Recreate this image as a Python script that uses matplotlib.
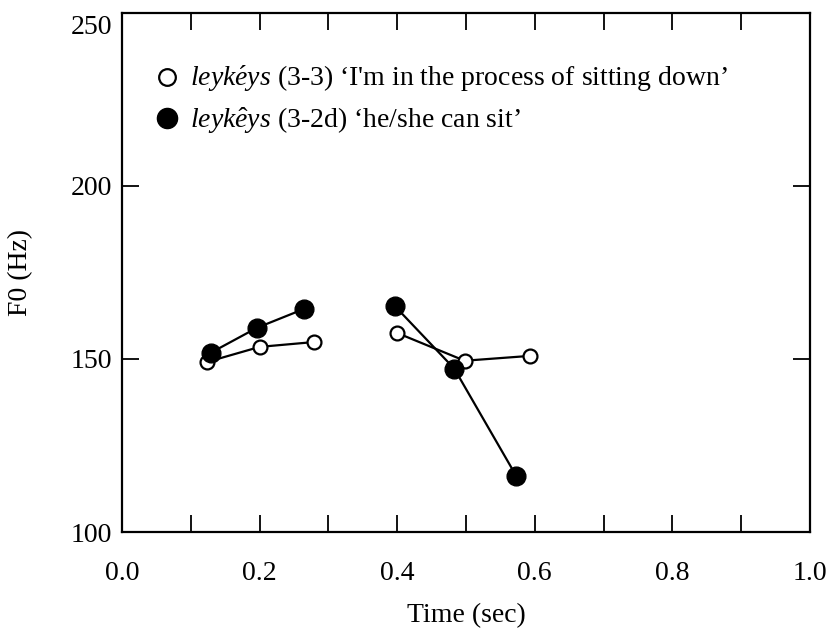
import matplotlib
matplotlib.use("Agg")
import matplotlib.pyplot as plt
import matplotlib.transforms as mtransforms
from matplotlib.lines import Line2D

plt.rcParams['font.family'] = ['Liberation Serif', 'DejaVu Serif']
plt.rcParams['mathtext.fontset'] = 'custom'
plt.rcParams['mathtext.rm'] = 'Liberation Serif'
plt.rcParams['mathtext.it'] = 'Liberation Serif:italic'

# leykéys (3-3): two syllable contours
open_time = [[0.123, 0.200, 0.279], [0.399, 0.498, 0.593]]
open_f0 = [[149.1, 153.5, 154.9], [157.6, 149.5, 150.9]]

# leykêys (3-2d): two syllable contours
filled_time = [[0.129, 0.196, 0.265], [0.397, 0.483, 0.573]]
filled_f0 = [[151.8, 159.0, 164.5], [165.2, 147.2, 116.2]]

open_label = r"$\mathit{leyk\acute{e}ys}$ (3-3) ‘I'm in the process of sitting down’"
filled_label = r"$\mathit{leyk\hat{e}ys}$ (3-2d) ‘he/she can sit’"

x_ticks = [0.0, 0.1, 0.2, 0.3, 0.4, 0.5, 0.6, 0.7, 0.8, 0.9, 1.0]
y_ticks = [100, 150, 200, 250]

fig = plt.figure(figsize=(8.34, 6.31), dpi=100)
ax = fig.add_axes([122 / 834, 1 - 532 / 631, 688 / 834, 519 / 631])

for t, f in zip(open_time, open_f0):
    ax.plot(t, f, color='black', lw=1.6, marker='o', ms=10,
            mfc='white', mec='black', mew=1.6, zorder=2)
for t, f in zip(filled_time, filled_f0):
    ax.plot(t, f, color='black', lw=1.6, marker='o', ms=13.5,
            mfc='black', mec='black', zorder=3)

ax.set_xlim(0, 1)
ax.set_ylim(100, 250)
ax.set_xticks(x_ticks)
ax.set_xticklabels([f"{v:.1f}" if i % 2 == 0 else "" for i, v in enumerate(x_ticks)])
ax.set_yticks(y_ticks)
ax.tick_params(direction='in', length=12, width=1.3, top=True, right=True,
               labelsize=20)
ax.tick_params(axis='x', pad=21)
ax.tick_params(axis='y', pad=7)
for s in ax.spines.values():
    s.set_linewidth(1.6)

# nudge the top y label down so it stays inside the figure
top_label = ax.get_yticklabels()[-1]
top_label.set_transform(top_label.get_transform() +
                        mtransforms.ScaledTranslation(0, -8 / 72, fig.dpi_scale_trans))

ax.set_xlabel("Time (sec)", fontsize=20, labelpad=12)
ax.set_ylabel("F0 (Hz)", fontsize=20, labelpad=27)

handles = [
    Line2D([], [], ls='none', marker='o', ms=12, mfc='white', mec='black', mew=1.6),
    Line2D([], [], ls='none', marker='o', ms=14.5, mfc='black', mec='black'),
]
ax.legend(handles, [open_label, filled_label], loc='upper left',
          bbox_to_anchor=(0.045, 0.902), frameon=False, fontsize=20,
          handletextpad=0.35, handlelength=1.0, labelspacing=0.4,
          borderaxespad=0, borderpad=0)

fig.savefig("out.png", dpi=100)
